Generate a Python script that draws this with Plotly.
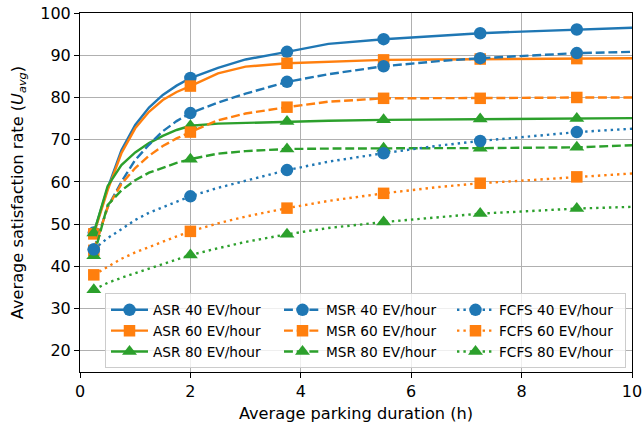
import plotly.graph_objects as go

# Average parking duration (h) at which each scheme was evaluated
duration = [0.25, 0.5, 0.75, 1.0, 1.25, 1.5, 1.75, 2.0, 2.5, 3.0,
            3.75, 4.5, 5.5, 6.5, 7.25, 8.0, 9.0, 10.0]
# indices of the points that carry a marker
marker_idx = [0, 7, 10, 12, 14, 16]

asr_40 = [48.0, 58.5, 67.5, 73.5, 77.6, 80.6, 82.8, 84.6, 87.0, 89.0,
          90.8, 92.7, 93.8, 94.6, 95.2, 95.6, 96.1, 96.5]
asr_60 = [47.7, 58.0, 66.8, 72.7, 76.6, 79.4, 81.3, 82.7, 85.7, 87.3,
          88.1, 88.5, 88.9, 89.0, 89.1, 89.1, 89.2, 89.3]
asr_80 = [47.9, 59.0, 64.0, 67.0, 69.2, 70.9, 72.3, 73.3, 73.8, 74.0,
          74.3, 74.5, 74.7, 74.8, 74.9, 75.0, 75.0, 75.1]
msr_40 = [44.0, 54.0, 60.0, 65.2, 68.8, 72.0, 74.4, 76.3, 78.8, 80.9,
          83.7, 85.5, 87.4, 88.6, 89.3, 89.8, 90.5, 90.8]
msr_60 = [43.8, 54.0, 59.5, 63.3, 66.2, 68.5, 70.3, 71.8, 74.6, 76.2,
          77.7, 79.0, 79.8, 79.8, 79.8, 79.9, 80.0, 80.0]
msr_80 = [42.5, 54.5, 58.0, 60.4, 62.2, 63.4, 64.5, 65.4, 66.7, 67.3,
          67.8, 67.9, 68.0, 68.0, 68.0, 68.1, 68.2, 68.7]
fcfs_40 = [44.0, 46.7, 48.8, 51.0, 52.7, 54.0, 55.4, 56.6, 58.6, 60.3,
           62.8, 64.8, 66.8, 68.6, 69.7, 70.6, 71.8, 72.6]
fcfs_60 = [38.0, 40.0, 41.8, 43.3, 44.6, 45.9, 47.1, 48.3, 50.2, 51.8,
           53.8, 55.5, 57.3, 58.8, 59.7, 60.3, 61.2, 62.0]
fcfs_80 = [34.5, 36.1, 37.3, 38.4, 39.5, 40.6, 41.7, 42.7, 44.3, 45.8,
           47.6, 49.1, 50.5, 51.7, 52.5, 53.0, 53.7, 54.1]

y_ticks = [20, 30, 40, 50, 60, 70, 80, 90, 100]
x_ticks = [0, 2, 4, 6, 8, 10]

BLUE, ORANGE, GREEN = "#1f77b4", "#ff7f0e", "#2ca02c"
LW = 2.4
SOLID, DASH, DOT = "solid", "8.9px,3.8px", "2.4px,4px"
SYMBOL = {BLUE: ("circle", 12.5), ORANGE: ("square", 11.5), GREEN: ("triangle-up", 13)}

series = [
    ("ASR 40 EV/hour", asr_40, BLUE, SOLID),
    ("ASR 60 EV/hour", asr_60, ORANGE, SOLID),
    ("ASR 80 EV/hour", asr_80, GREEN, SOLID),
    ("MSR 40 EV/hour", msr_40, BLUE, DASH),
    ("MSR 60 EV/hour", msr_60, ORANGE, DASH),
    ("MSR 80 EV/hour", msr_80, GREEN, DASH),
    ("FCFS 40 EV/hour", fcfs_40, BLUE, DOT),
    ("FCFS 60 EV/hour", fcfs_60, ORANGE, DOT),
    ("FCFS 80 EV/hour", fcfs_80, GREEN, DOT),
]

fig = go.Figure()

for name, vals, color, dash in series:
    sym, size = SYMBOL[color]
    fig.add_trace(go.Scatter(
        x=duration, y=vals, mode="lines", name=name, legendgroup=name,
        showlegend=False, line=dict(color=color, width=LW, dash=dash),
    ))
    fig.add_trace(go.Scatter(
        x=[duration[i] for i in marker_idx], y=[vals[i] for i in marker_idx],
        mode="markers", name=name, legendgroup=name, showlegend=False,
        marker=dict(symbol=sym, size=size, color=color, line=dict(width=0)),
    ))

# legend entries, laid out row by row so the columns read ASR / MSR / FCFS
for row in range(3):
    for col in range(3):
        name, vals, color, dash = series[col * 3 + row]
        sym, size = SYMBOL[color]
        fig.add_trace(go.Scatter(
            x=[None], y=[None], mode="lines+markers", name=name,
            legendgroup=name, showlegend=True,
            line=dict(color=color, width=LW, dash=dash),
            marker=dict(symbol=sym, size=size, color=color, line=dict(width=0)),
        ))

axis_common = dict(
    showline=True, linecolor="black", linewidth=1.1, mirror=True,
    ticks="outside", ticklen=5, tickwidth=1.1, tickcolor="black",
    showgrid=True, gridcolor="#b0b0b0", gridwidth=1, zeroline=False,
    tickfont=dict(size=16, color="black"), automargin=False,
)

fig.update_layout(
    width=643, height=426,
    margin=dict(l=80, r=11, t=13, b=54),
    paper_bgcolor="white", plot_bgcolor="white",
    font=dict(family="DejaVu Sans", size=16, color="black"),
    xaxis=dict(range=[0, 10], tickvals=x_ticks,
               title=dict(text="Average parking duration (h)", standoff=7,
                          font=dict(size=16.2)),
               **axis_common),
    yaxis=dict(range=[15, 100], tickvals=y_ticks,
               title=dict(text="Average satisfaction rate (<i>U</i><sub><i>avg</i></sub>)",
                          standoff=12, font=dict(size=16.2)),
               **axis_common),
    legend=dict(
        orientation="h", x=(105 - 80) / 552, y=0.01, xanchor="left", yanchor="bottom",
        entrywidth=121, entrywidthmode="pixels", traceorder="normal",
        bgcolor="rgba(255,255,255,0.8)", bordercolor="#cccccc", borderwidth=1,
        font=dict(size=13.7), itemwidth=37,
    ),
    showlegend=True,
)

fig.write_html("out.html")
